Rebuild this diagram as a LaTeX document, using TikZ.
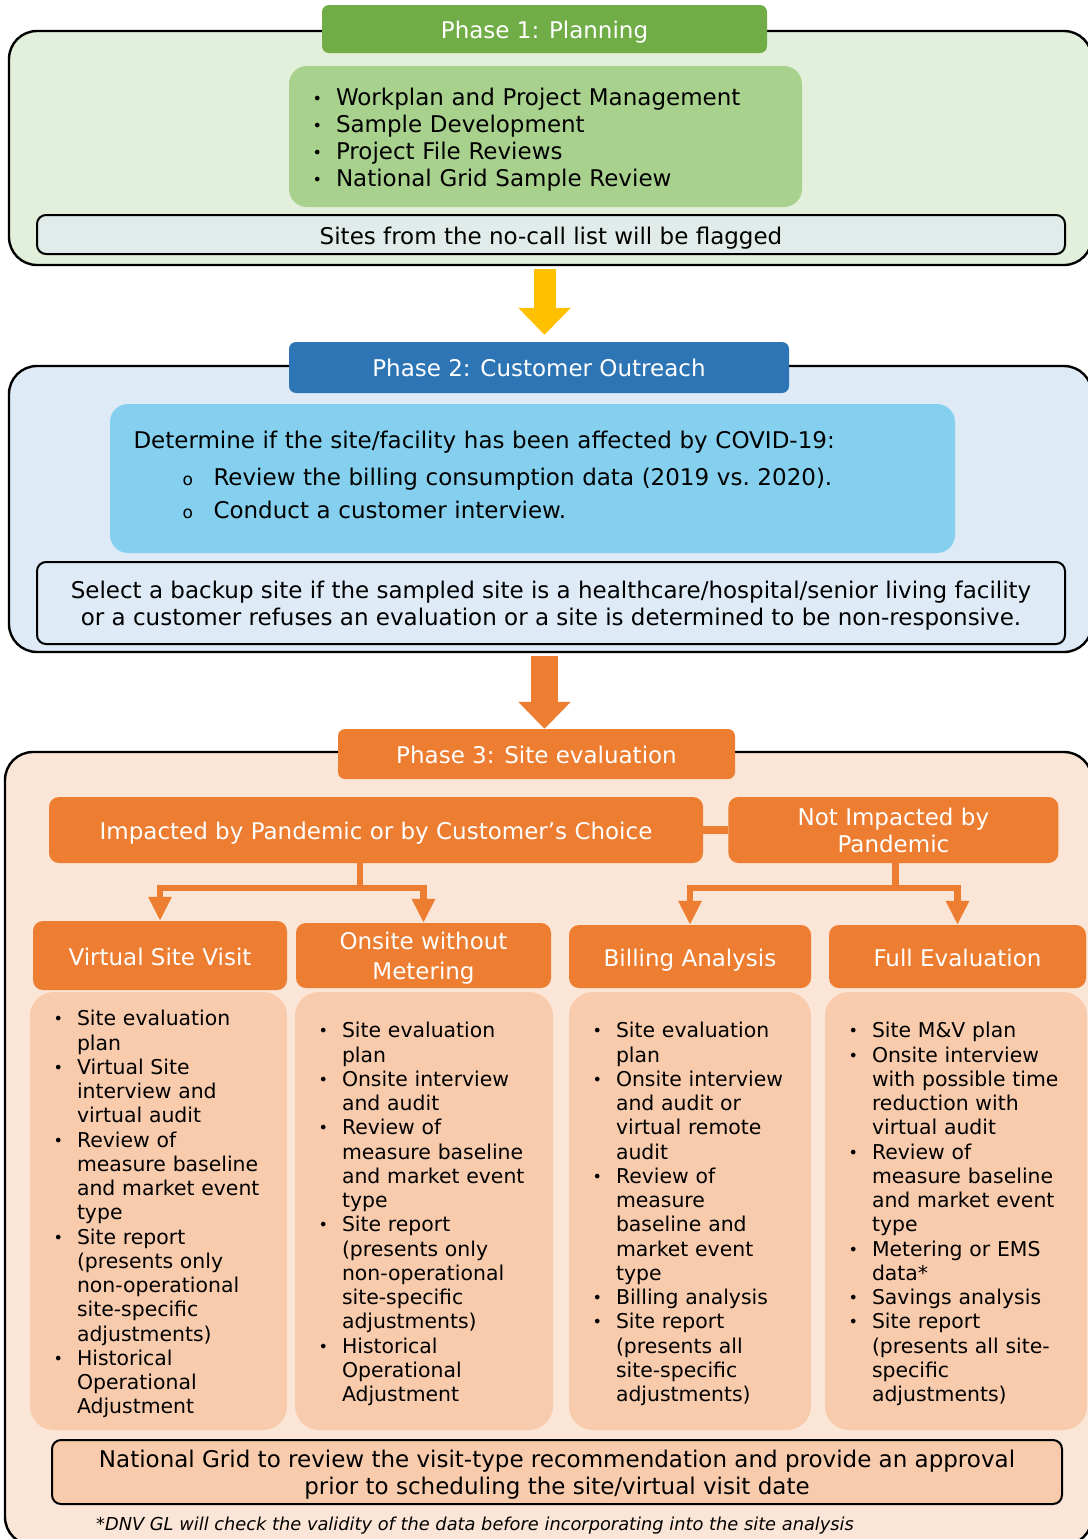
\documentclass[tikz,border=0pt]{standalone}
\usepackage{fontspec}
\setmainfont{DejaVu Sans}
\usetikzlibrary{arrows.meta, positioning}

\definecolor{planGreen}{HTML}{70AD47}
\definecolor{planList}{HTML}{A9D18E}
\definecolor{planBack}{HTML}{E2EFDA}
\definecolor{planFlag}{HTML}{E0EBEA}
\definecolor{outBlue}{HTML}{2E75B6}
\definecolor{outBack}{HTML}{DEEBF7}
\definecolor{outCheck}{HTML}{85D0EE}
\definecolor{evalOrange}{HTML}{ED7D31}
\definecolor{evalBack}{HTML}{FBE5D6}
\definecolor{evalBody}{HTML}{F8CBAD}
\definecolor{arrowYellow}{HTML}{FFC000}

\newcommand{\phasefont}{\fontsize{23}{27}\selectfont}
\newcommand{\colfont}{\fontsize{20.4}{24.25}\selectfont}
\newcommand{\bitem}{\raisebox{1pt}{\fontsize{16}{16}\selectfont •}}
\newcommand{\oitem}{\makebox[31pt][l]{\fontsize{17}{17}\selectfont o}}
\newcommand{\nudge}[2]{\raisebox{#1}[\height][\depth]{#2}}

\begin{document}
\begin{tikzpicture}[x=1pt, y=-1pt, >=Triangle]

        % Styles
        \tikzstyle{phasebox} = [draw=black, line width=2.4pt, rounded corners=28pt, inner sep=0pt]
        \tikzstyle{phasehead} = [rounded corners=7pt, text=white, font=\phasefont, inner sep=0pt]
        \tikzstyle{listbox} = [rounded corners=18pt, inner xsep=23.5pt, inner ysep=0pt, align=left, font=\phasefont]
        \tikzstyle{notebox} = [draw=black, line width=2pt, rounded corners=9pt, align=center, font=\phasefont, inner sep=0pt]
        \tikzstyle{colhead} = [fill=evalOrange, rounded corners=10pt, text=white, align=center, font=\phasefont, inner sep=0pt]
        \tikzstyle{colbody} = [fill=evalBody, rounded corners=24pt, inner xsep=23.5pt, inner ysep=0pt, align=left, font=\colfont]
        \tikzstyle{splitline} = [draw=evalOrange, line width=6.5pt]
        \tikzstyle{splitarrow} = [splitline, -{Triangle[width=22pt, length=24pt]}]
        \tikzstyle{bigarrow} = [-{Triangle[width=51pt, length=27pt]}]

        \useasboundingbox[fill=white] (0,0) rectangle (1087,1539);

        % Phase 1
        \node[phasebox, fill=planBack, minimum width=1083pt, minimum height=234pt] (p1box) at (550.5,148) {};
        \node[phasehead, fill=planGreen, minimum width=445pt, minimum height=48pt] (p1head) at (544.5,29) {\nudge{-3pt}{Phase 1: Planning}};
        \node[listbox, fill=planList, minimum width=513pt, minimum height=141pt, text width=466pt] (p1list) at (545.5,136.5) {\nudge{-4pt}{%
            \begin{tabular}{@{}p{23.5pt}@{}l@{}}
            \bitem & Workplan and Project Management\\
            \bitem & Sample Development\\
            \bitem & Project File Reviews\\
            \bitem & National Grid Sample Review
            \end{tabular}}};
        \node[notebox, fill=planFlag, minimum width=1028pt, minimum height=39pt] (p1flag) at (551,234.5) {\nudge{-4pt}{Sites from the no-call list will be flagged}};

        % Phase 2
        \node[phasebox, fill=outBack, minimum width=1083pt, minimum height=286pt] (p2box) at (550.5,509) {};
        \node[phasehead, fill=outBlue, minimum width=500pt, minimum height=51pt] (p2head) at (539,367.5) {Phase 2: Customer Outreach};
        \node[listbox, fill=outCheck, minimum width=845pt, minimum height=149pt, text width=798pt, font=\fontsize{23}{33}\selectfont] (p2check) at (532.5,478.5) {\nudge{2pt}{%
            \begin{tabular}{@{}l@{}}
            Determine if the site/facility has been affected by COVID-19:\\[4pt]
            \hspace*{49pt}\oitem Review the billing consumption data (2019 vs.\ 2020).\\
            \hspace*{49pt}\oitem Conduct a customer interview.
            \end{tabular}}};
        \node[notebox, fill=outBack, minimum width=1028pt, minimum height=82pt] (p2backup) at (551,603) {\nudge{-4pt}{%
            \begin{tabular}{@{}c@{}}
            Select a backup site if the sampled site is a healthcare/hospital/senior living facility\\
            or a customer refuses an evaluation or a site is determined to be non-responsive.
            \end{tabular}}};

        % Arrows between phases
        \draw[bigarrow, arrowYellow, line width=22pt, shorten <=3pt, shorten >=7pt] (p1box.south -| p1head.south) -- (p2head.north -| p1head.south);

        % Phase 3
        \node[phasebox, fill=evalBack, minimum width=1087pt, minimum height=793pt] (p3box) at (548.5,1148.5) {};
        \node[phasehead, fill=evalOrange, minimum width=397pt, minimum height=50pt] (p3head) at (536.5,754) {\nudge{-1pt}{Phase 3: Site evaluation}};
        \draw[bigarrow, evalOrange, line width=27pt, shorten <=3pt] (p2box.south -| p1head.south) -- (p3head.north -| p1head.south);

        \node[colhead, minimum width=654pt, minimum height=66pt] (impact) at (376,830) {\nudge{-3pt}{Impacted by Pandemic or by Customer’s Choice}};
        \node[colhead, minimum width=330pt, minimum height=66pt, right=25pt of impact] (noimpact) {Not Impacted by\\Pandemic};
        \draw[splitline, line width=8pt] (impact) -- (noimpact);

        % Visit types
        \node[colhead, minimum width=254pt, minimum height=69pt] (vsv) at (160,955.5) {\nudge{-1pt}{Virtual Site Visit}};
        \node[colhead, minimum width=255pt, minimum height=65pt] (onsite) at (423.5,955.5) {\nudge{-4pt}{%
            \begin{tabular}{@{}c@{}}Onsite without\\[3pt]Metering\end{tabular}}};
        \node[colhead, minimum width=242pt, minimum height=63pt] (billing) at (690,956.5) {\nudge{-4pt}{Billing Analysis}};
        \node[colhead, minimum width=257pt, minimum height=63pt] (fulleval) at (957.5,956.5) {\nudge{-1pt}{Full Evaluation}};

        \draw[splitarrow] ([xshift=-16pt]impact.south) -- ++(0,25) -| (vsv.north);
        \draw[splitarrow] ([xshift=-16pt]impact.south) -- ++(0,25) -| (onsite.north);
        \draw[splitarrow] ([xshift=2pt]noimpact.south) -- ++(0,25) -| (billing.north);
        \draw[splitarrow] ([xshift=2pt]noimpact.south) -- ++(0,25) -| (fulleval.north);

        % Visit type contents
        \node[colbody, minimum width=257pt, text width=210pt, minimum height=438pt] (vsvbody) at (158.5,1211) {\nudge{-4pt}{%
            \begin{tabular}{@{}p{23.5pt}@{}l@{}}
            \bitem & Site evaluation\\
                   & plan\\
            \bitem & Virtual Site\\
                   & interview and\\
                   & virtual audit\\
            \bitem & Review of\\
                   & measure baseline\\
                   & and market event\\
                   & type\\
            \bitem & Site report\\
                   & (presents only\\
                   & non-operational\\
                   & site-specific\\
                   & adjustments)\\
            \bitem & Historical\\
                   & Operational\\
                   & Adjustment
            \end{tabular}}};
        \node[colbody, minimum width=258pt, text width=211pt, minimum height=438pt] (onsitebody) at (424,1211) {\nudge{-4pt}{%
            \begin{tabular}{@{}p{23.5pt}@{}l@{}}
            \bitem & Site evaluation\\
                   & plan\\
            \bitem & Onsite interview\\
                   & and audit\\
            \bitem & Review of\\
                   & measure baseline\\
                   & and market event\\
                   & type\\
            \bitem & Site report\\
                   & (presents only\\
                   & non-operational\\
                   & site-specific\\
                   & adjustments)\\
            \bitem & Historical\\
                   & Operational\\
                   & Adjustment
            \end{tabular}}};
        \node[colbody, minimum width=242pt, text width=195pt, minimum height=438pt] (billingbody) at (690,1211) {\nudge{-4pt}{%
            \begin{tabular}{@{}p{23.5pt}@{}l@{}}
            \bitem & Site evaluation\\
                   & plan\\
            \bitem & Onsite interview\\
                   & and audit or\\
                   & virtual remote\\
                   & audit\\
            \bitem & Review of\\
                   & measure\\
                   & baseline and\\
                   & market event\\
                   & type\\
            \bitem & Billing analysis\\
            \bitem & Site report\\
                   & (presents all\\
                   & site-specific\\
                   & adjustments)
            \end{tabular}}};
        \node[colbody, minimum width=262pt, text width=215pt, minimum height=438pt] (fullbody) at (956,1211) {\nudge{-4pt}{%
            \begin{tabular}{@{}p{23.5pt}@{}l@{}}
            \bitem & Site M\&V plan\\
            \bitem & Onsite interview\\
                   & with possible time\\
                   & reduction with\\
                   & virtual audit\\
            \bitem & Review of\\
                   & measure baseline\\
                   & and market event\\
                   & type\\
            \bitem & Metering or EMS\\
                   & data*\\
            \bitem & Savings analysis\\
            \bitem & Site report\\
                   & (presents all site-\\
                   & specific\\
                   & adjustments)
            \end{tabular}}};

        % Approval and footnote
        \node[notebox, fill=evalBody, minimum width=1010pt, minimum height=64pt] (approval) at (557,1472) {\nudge{-4pt}{%
            \begin{tabular}{@{}c@{}}
            National Grid to review the visit-type recommendation and provide an approval\\
            prior to scheduling the site/virtual visit date
            \end{tabular}}};
        \node[anchor=west, inner sep=0pt, font=\fontsize{17.8}{21}\selectfont\itshape] (footnote) at (96,1526) {*DNV GL will check the validity of the data before incorporating into the site analysis};

\end{tikzpicture}
\end{document}
